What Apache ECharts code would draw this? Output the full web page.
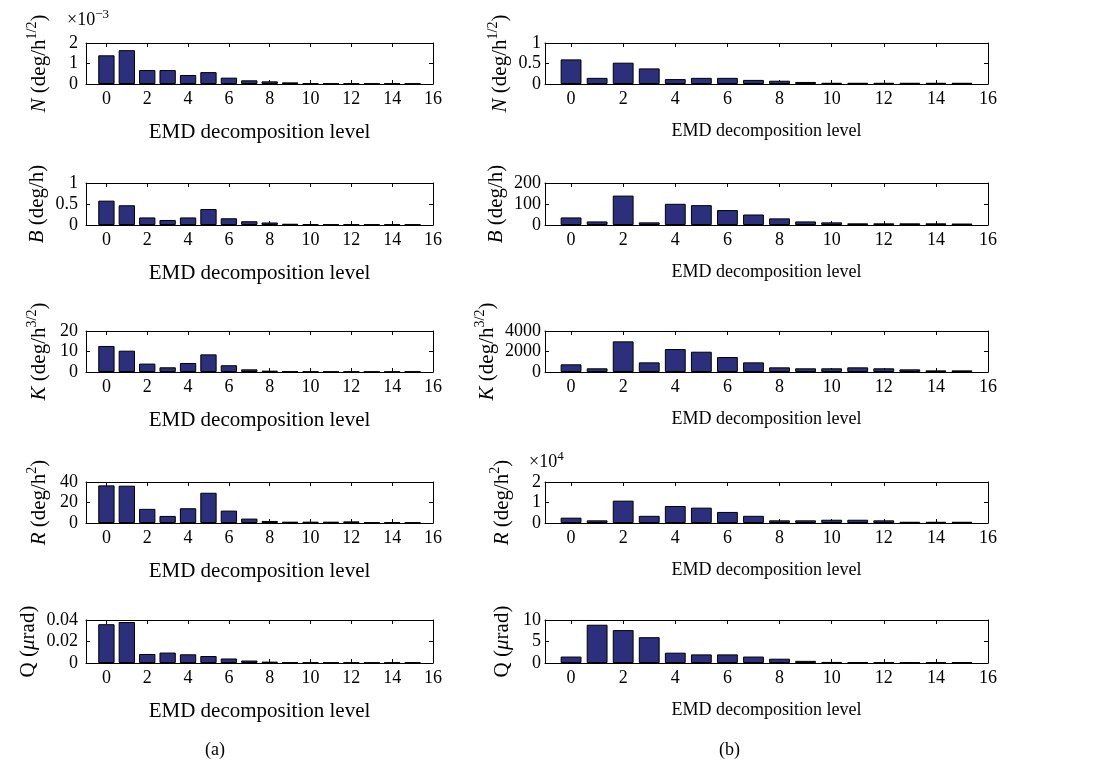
<!DOCTYPE html>
<html><head><meta charset="utf-8">
<script src="https://cdn.jsdelivr.net/npm/echarts@6/dist/echarts.min.js"></script>
<style>html,body{margin:0;padding:0;background:#fff}#c{width:1105px;height:765px}</style>
</head><body><div id="c"></div>
<script>
// ---------- data ----------
const levels = [0,1,2,3,4,5,6,7,8,9,10,11,12,13,14,15];
const xTicks = [0,2,4,6,8,10,12,14,16];

// column (a)
const aN = [1.40,1.65,0.68,0.68,0.44,0.58,0.31,0.18,0.13,0.08,0.04,0.03,0.03,0.03,0.03,0.03]; // x10^-3
const aB = [0.58,0.47,0.18,0.12,0.18,0.38,0.16,0.09,0.06,0.03,0.02,0.015,0.015,0.015,0.015,0.015];
const aK = [12.7,10.4,4.1,2.3,4.4,8.6,3.3,1.3,0.65,0.3,0.25,0.2,0.2,0.2,0.2,0.3];
const aR = [36.7,36.4,13.8,6.9,14.4,29.5,12.1,4.3,2.0,1.3,1.3,1.3,1.6,0.7,0.7,0.7];
const aQ = [0.0361,0.0381,0.0084,0.0097,0.0081,0.0065,0.0042,0.0023,0.0013,0.0006,0.0005,0.0005,0.0005,0.0005,0.0005,0.0008];

// column (b)
const bN = [0.60,0.15,0.52,0.38,0.12,0.15,0.15,0.10,0.08,0.05,0.03,0.03,0.03,0.03,0.03,0.03];
const bB = [36,17,140,12.6,101,94.5,71,50,31.5,17,12.6,8,8,8,8,7];
const bK = [750,360,2990,940,2240,1980,1460,940,455,360,360,455,360,260,160,160];
const bR = [0.26,0.13,1.09,0.35,0.83,0.75,0.54,0.35,0.13,0.13,0.16,0.16,0.13,0.06,0.06,0.06]; // x10^4
const bQ = [1.5,8.9,7.65,6.0,2.4,2.0,2.0,1.5,1.0,0.5,0.25,0.2,0.2,0.2,0.2,0.2];

const aYMax = [2,1,20,40,0.04];
const aYStep = [1,0.5,10,20,0.02];
const bYMax = [1,200,4000,2,10];
const bYStep = [0.5,100,2000,1,5];

const yNames = [
  '{i|N} (deg/h{s|1/2})',
  '{i|B} (deg/h)',
  '{i|K} (deg/h{s|3/2})',
  '{i|R} (deg/h{s|2})',
  'Q ({i|μ}rad)'
];
const xName = 'EMD decomposition level';

// ---------- layout ----------
const FONT = 'Liberation Serif';
const rowTop = [43,183,331,482,620];
const rowH = [41,42,41,41,43];
const cols = [
  {left:86, width:347, data:[aN,aB,aK,aR,aQ], max:aYMax, step:aYStep, xNameSize:21, yGap:33, yMargin:8},
  {left:545, width:443, data:[bN,bB,bK,bR,bQ], max:bYMax, step:bYStep, xNameSize:18, yGap:29, yMargin:4}
];

const grid = [], xAxis = [], yAxis = [], series = [];
const tickStyle = {color:'#000', width:1};
let g = 0;
cols.forEach(col => {
  for (let r = 0; r < 5; r++) {
    grid.push({left: col.left, top: rowTop[r], width: col.width, height: rowH[r]});
    xAxis.push({
      gridIndex: g, type:'value', min:-1, max:16, position:'bottom',
      axisLine:{show:true, onZero:false, lineStyle:tickStyle},
      axisTick:{show:true, inside:true, length:4, customValues:xTicks, lineStyle:tickStyle},
      axisLabel:{show:true, customValues:xTicks, color:'#000', fontFamily:FONT, fontSize:18, margin:6},
      splitLine:{show:false},
      name: xName, nameLocation:'middle', nameGap:38,
      nameTextStyle:{color:'#000', fontFamily:FONT, fontSize:col.xNameSize}
    });
    xAxis.push({
      gridIndex: g, type:'value', min:-1, max:16, position:'top',
      axisLine:{show:true, onZero:false, lineStyle:tickStyle},
      axisTick:{show:true, inside:true, length:4, customValues:xTicks, lineStyle:tickStyle},
      axisLabel:{show:false}, splitLine:{show:false}
    });
    yAxis.push({
      gridIndex: g, type:'value', min:0, max:col.max[r], interval:col.step[r], position:'left',
      axisLine:{show:true, onZero:false, lineStyle:tickStyle},
      axisTick:{show:true, inside:true, length:4, lineStyle:tickStyle},
      axisLabel:{color:'#000', fontFamily:FONT, fontSize:18, margin:col.yMargin,
        formatter: v => String(parseFloat(v.toPrecision(6)))},
      splitLine:{show:false},
      name: yNames[r], nameLocation:'middle', nameRotate:90, nameGap:col.yGap,
      nameTextStyle:{color:'#000', fontFamily:FONT, fontSize:21, lineHeight:28,
        rich:{
          i:{fontStyle:'italic', fontFamily:FONT, fontSize:21, lineHeight:28, color:'#000'},
          s:{fontFamily:FONT, fontSize:14, lineHeight:14, verticalAlign:'top', color:'#000'}
        }}
    });
    yAxis.push({
      gridIndex: g, type:'value', min:0, max:col.max[r], interval:col.step[r], position:'right',
      axisLine:{show:true, onZero:false, lineStyle:tickStyle},
      axisTick:{show:true, inside:true, length:4, lineStyle:tickStyle},
      axisLabel:{show:false}, splitLine:{show:false}
    });
    const vals = col.data[r];
    series.push({
      type:'bar', xAxisIndex: 2*g, yAxisIndex: 2*g,
      data: levels.map((x,i) => [x, vals[i]]),
      barWidth: col.width / 17 * 0.8,
      itemStyle:{color:'#2c2f7c', borderColor:'#000', borderWidth:1},
      silent:true, animation:false
    });
    g++;
  }
});

const supRich = {s:{fontFamily:FONT, fontSize:13, lineHeight:13, verticalAlign:'top', fill:'#000', color:'#000'}};
const graphic = [
  {type:'text', left:67, top:8, style:{text:'×10{s|−3}', fontFamily:FONT, fontSize:18, lineHeight:24, fill:'#000', rich:supRich}},
  {type:'text', left:529, top:450, style:{text:'×10{s|4}', fontFamily:FONT, fontSize:18, lineHeight:24, fill:'#000', rich:supRich}},
  {type:'text', left:205, top:741, style:{text:'(a)', fontFamily:FONT, fontSize:18, fill:'#000'}},
  {type:'text', left:719, top:741, style:{text:'(b)', fontFamily:FONT, fontSize:18, fill:'#000'}}
];

const chart = echarts.init(document.getElementById('c'), null, {renderer:'canvas'});
chart.setOption({animation:false, backgroundColor:'#fff', grid, xAxis, yAxis, series, graphic});
</script>
</body></html>
